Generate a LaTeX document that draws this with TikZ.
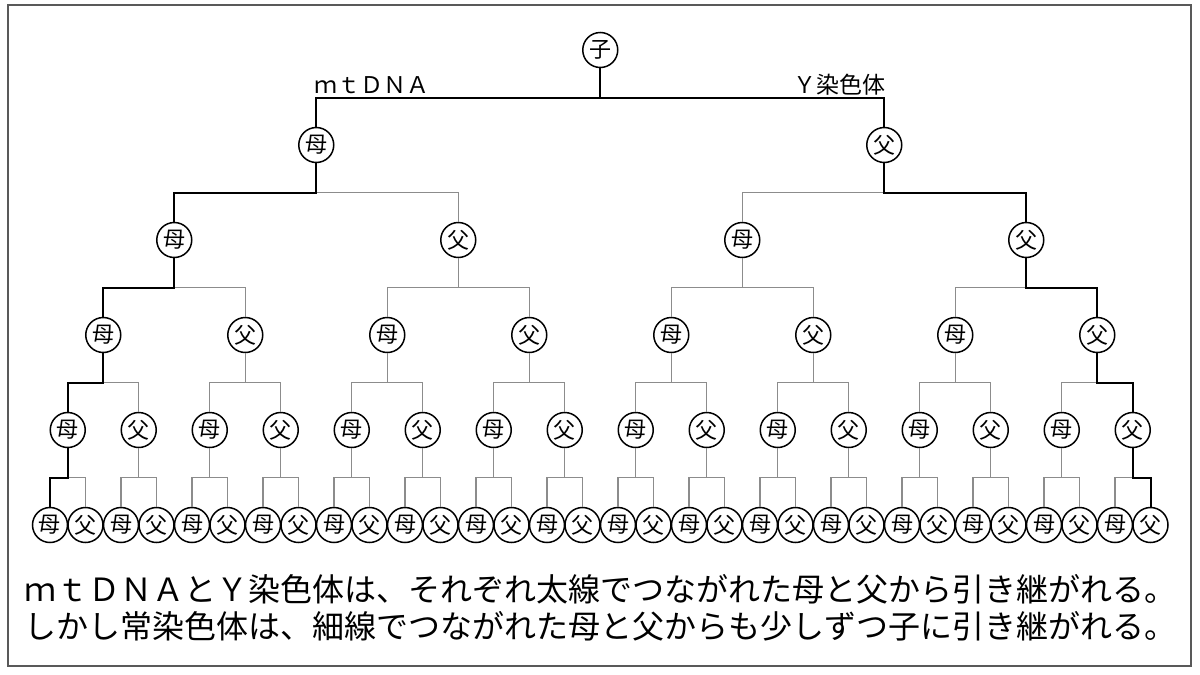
\documentclass[tikz,border=0pt]{standalone}
\usepackage{fontspec}
\setmainfont{Noto Sans CJK JP}
\usepackage{xcolor}
\usepackage{tikz}

\definecolor{linkgray}{gray}{0.55}
\definecolor{framegray}{gray}{0.35}

\tikzset{
  person/.style={circle,draw,line width=0.75pt,minimum size=17.5pt,inner sep=0pt,font=\fontsize{11}{11}\selectfont},
  thinlink/.style={draw=linkgray,line width=0.6pt},
  thicklink/.style={draw=black,line width=1pt},
}

\begin{document}
\begin{tikzpicture}[x=0.5pt,y=0.5pt,yscale=-1,xscale=1]
\useasboundingbox (0,0) rectangle (1200,675);

%Frame
\draw [framegray,line width=1pt] (8,5) rectangle (1191,666);

%Root
\node[person] (n0-1) at (600.25,50) {子};

%Ancestors, one row per generation
\foreach \lv in {1,...,5}{
  \pgfmathtruncatemacro\cnt{2^\lv}
  \pgfmathsetmacro\sp{1136/\cnt}
  \foreach \i in {1,...,\cnt}{
    \pgfmathsetmacro\xx{32.25+\sp*(\i-0.5)}
    \ifodd\i \def\who{母}\else\def\who{父}\fi
    \node[person] (n\lv-\i) at (\xx,{50+95*\lv}) {\who};
  }
}

%Thin links
\foreach \lv in {1,...,5}{
  \pgfmathtruncatemacro\cnt{2^\lv}
  \pgfmathtruncatemacro\pl{\lv-1}
  \foreach \i in {1,...,\cnt}{
    \pgfmathtruncatemacro\up{(\i+1)/2}
    \draw [thinlink] (n\pl-\up.south) -- ++(0,29.5) -| (n\lv-\i.north);
  }
}

%Thick links: mtDNA and Y chromosome
\foreach \a/\b in {0-1/1-1,1-1/2-1,2-1/3-1,3-1/4-1,4-1/5-1,
                   0-1/1-2,1-2/2-4,2-4/3-8,3-8/4-16,4-16/5-32}{
  \draw [thicklink] (n\a.south) -- ++(0,29.5) -| (n\b.north);
}

%Labels
\node [anchor=west,inner sep=0pt,font=\fontsize{11.5}{11.5}\selectfont] (mt) at (314,85) {ｍｔＤＮＡ};
\node [anchor=east,inner sep=0pt,font=\fontsize{11.5}{11.5}\selectfont] (yc) at (886,85) {Ｙ染色体};

%Caption
\node [align=left,inner sep=0pt,font=\fontsize{16}{18.5}\selectfont] (note) at (601,608)
  {ｍｔＤＮＡとＹ染色体は、それぞれ太線でつながれた母と父から引き継がれる。\\
   しかし常染色体は、細線でつながれた母と父からも少しずつ子に引き継がれる。};
\end{tikzpicture}
\end{document}
